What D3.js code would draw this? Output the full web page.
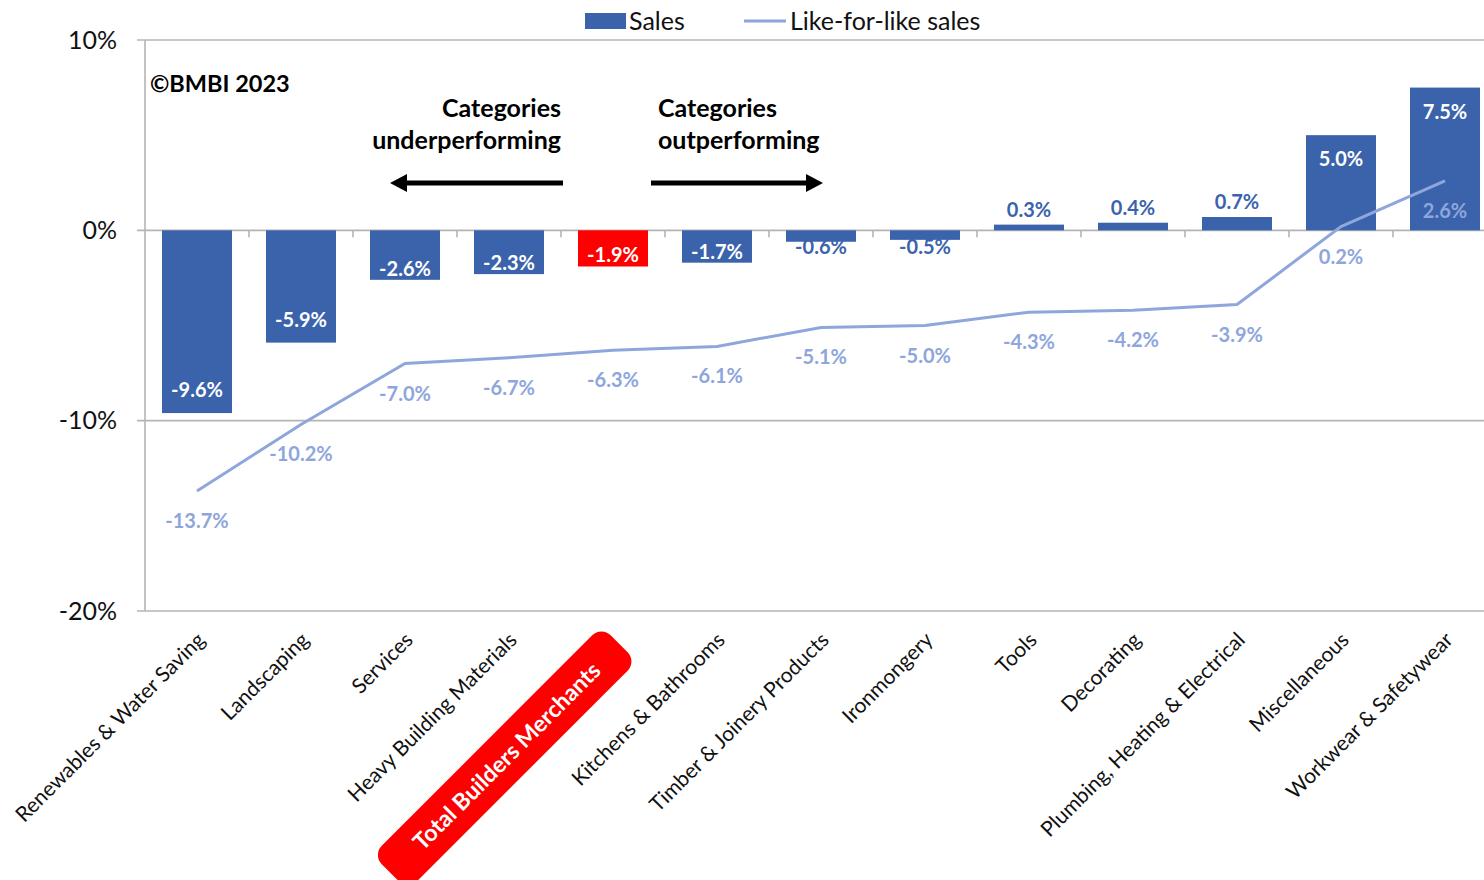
<!DOCTYPE html>
<html>
<head>
<meta charset="utf-8">
<script src="https://cdn.jsdelivr.net/npm/d3@7"></script>
<style>
  body { margin: 0; background: #fff; }
  svg { display: block; font-family: Lato, "Open Sans", sans-serif; }
</style>
</head>
<body>
<svg id="chart" width="1484" height="880"></svg>
<script>
// Builders merchants: sales and like-for-like sales change by category
const categories = [
  "Renewables & Water Saving", "Landscaping", "Services", "Heavy Building Materials",
  "Total Builders Merchants", "Kitchens & Bathrooms", "Timber & Joinery Products",
  "Ironmongery", "Tools", "Decorating", "Plumbing, Heating & Electrical",
  "Miscellaneous", "Workwear & Safetywear"
];
const sales = [-9.6, -5.9, -2.6, -2.3, -1.9, -1.7, -0.6, -0.5, 0.3, 0.4, 0.7, 5.0, 7.5];
const likeForLike = [-13.7, -10.2, -7.0, -6.7, -6.3, -6.1, -5.1, -5.0, -4.3, -4.2, -3.9, 0.2, 2.6];
const yTicks = [10, 0, -10, -20];
const totalCategory = "Total Builders Merchants";
const seriesNames = ["Sales", "Like-for-like sales"];

const BAR = "#3B63AC", TOTAL = "#FF0000", LINE = "#8EA6DC", GRID = "#B4B4B4";

const svg = d3.select("#chart");
const plotLeft = 145, plotTop = 40, plotBottom = 611;
const step = 104;

const x = d3.scaleBand()
  .domain(categories)
  .range([plotLeft, plotLeft + step * categories.length])
  .paddingInner(34 / 104)
  .paddingOuter(17 / 104);

const y = d3.scaleLinear().domain([-20, 10]).range([plotBottom, plotTop]);
const fmt = v => v.toFixed(1) + "%";

// horizontal gridlines
svg.append("g").selectAll("line").data(yTicks).join("line")
  .attr("x1", plotLeft - 8).attr("x2", x.range()[1])
  .attr("y1", d => y(d)).attr("y2", d => y(d))
  .attr("stroke", GRID).attr("stroke-width", 1.6);

// vertical axis line
svg.append("line")
  .attr("x1", plotLeft).attr("x2", plotLeft)
  .attr("y1", y(10)).attr("y2", y(-20))
  .attr("stroke", GRID).attr("stroke-width", 1.6);

// y tick labels
svg.append("g").selectAll("text").data(yTicks).join("text")
  .attr("x", 117).attr("y", d => y(d)).attr("dy", "0.35em")
  .attr("text-anchor", "end").attr("font-size", 25).attr("fill", "#111")
  .text(d => d + "%");

// bars
svg.append("g").selectAll("rect").data(sales).join("rect")
  .attr("x", (d, i) => x(categories[i]))
  .attr("width", x.bandwidth())
  .attr("y", d => Math.min(y(d), y(0)))
  .attr("height", d => Math.abs(y(d) - y(0)))
  .attr("fill", (d, i) => categories[i] === totalCategory ? TOTAL : BAR);

// category boundary ticks on the zero line
svg.append("g").selectAll("line").data(categories.slice(1)).join("line")
  .attr("x1", d => x(d) - x.step() * x.paddingInner() / 2)
  .attr("x2", d => x(d) - x.step() * x.paddingInner() / 2)
  .attr("y1", y(0)).attr("y2", y(0) + 7)
  .attr("stroke", GRID).attr("stroke-width", 1.6);

// like-for-like line
const cx = i => x(categories[i]) + x.bandwidth() / 2;
svg.append("path")
  .datum(likeForLike)
  .attr("d", d3.line().x((d, i) => cx(i)).y(d => y(d)))
  .attr("fill", "none").attr("stroke", LINE).attr("stroke-width", 3);

// bar value labels
svg.append("g").selectAll("text").data(sales).join("text")
  .attr("x", (d, i) => cx(i))
  .attr("y", d => {
    const len = Math.abs(y(d) - y(0));
    if (d >= 0) return len > 60 ? y(d) + 24 : y(d) - 15;
    return len > 60 ? y(d) - 23 : Math.max(y(d) - 11, y(0) + 17);
  })
  .attr("dy", "0.35em").attr("text-anchor", "middle")
  .attr("font-size", 20).attr("font-weight", 700)
  .attr("fill", d => {
    const len = Math.abs(y(d) - y(0));
    if (d >= 0) return len > 60 ? "#fff" : BAR;
    return len > 30 ? "#fff" : BAR;
  })
  .text(fmt);

// like-for-like value labels
svg.append("g").selectAll("text").data(likeForLike).join("text")
  .attr("x", (d, i) => cx(i))
  .attr("y", d => y(d) + 30)
  .attr("dy", "0.35em").attr("text-anchor", "middle")
  .attr("font-size", 20).attr("font-weight", 700).attr("fill", LINE)
  .text(fmt);

// category labels, rotated
const cat = svg.append("g").selectAll("g").data(categories).join("g")
  .attr("transform", d => `translate(${x(d) + x.bandwidth() / 2 + 4},636) rotate(-45)`);
cat.each(function (d) {
  const g = d3.select(this);
  if (d === totalCategory) {
    const t = g.append("text")
      .attr("x", -36).attr("y", 7).attr("dy", "0.35em")
      .attr("text-anchor", "end").attr("font-size", 23).attr("font-weight", 700)
      .attr("fill", "#fff").text(d);
    const b = t.node().getBBox();
    g.insert("rect", "text")
      .attr("x", b.x - 38).attr("width", b.width + 70)
      .attr("y", 7 - 25).attr("height", 50)
      .attr("rx", 13).attr("fill", TOTAL);
  } else {
    g.append("text")
      .attr("dy", "0.35em").attr("text-anchor", "end")
      .attr("font-size", 21).attr("fill", "#111").text(d);
  }
});

// legend
const legend = svg.append("g");
legend.append("rect").attr("x", 585).attr("y", 13).attr("width", 41).attr("height", 16).attr("fill", BAR);
legend.append("text").attr("x", 629).attr("y", 21).attr("dy", "0.35em")
  .attr("font-size", 25).attr("fill", "#111").text(seriesNames[0]);
legend.append("line").attr("x1", 744).attr("x2", 786).attr("y1", 21).attr("y2", 21)
  .attr("stroke", LINE).attr("stroke-width", 3);
legend.append("text").attr("x", 790).attr("y", 21).attr("dy", "0.35em")
  .attr("font-size", 25).attr("fill", "#111").text(seriesNames[1]);

// annotations
svg.append("text").attr("x", 150).attr("y", 84).attr("dy", "0.35em")
  .attr("font-size", 23.5).attr("font-weight", 700).attr("fill", "#000").text("©BMBI 2023");

const under = svg.append("text").attr("text-anchor", "end")
  .attr("font-size", 25).attr("font-weight", 700).attr("fill", "#000");
under.append("tspan").attr("x", 561).attr("y", 108).attr("dy", "0.35em").text("Categories");
under.append("tspan").attr("x", 561).attr("y", 140).attr("dy", "0.35em").text("underperforming");

const over = svg.append("text").attr("text-anchor", "start")
  .attr("font-size", 25).attr("font-weight", 700).attr("fill", "#000");
over.append("tspan").attr("x", 658).attr("y", 108).attr("dy", "0.35em").text("Categories");
over.append("tspan").attr("x", 658).attr("y", 140).attr("dy", "0.35em").text("outperforming");

// direction arrows
function arrow(x0, x1, yy) {
  const dir = Math.sign(x1 - x0), head = 17;
  svg.append("line").attr("x1", x0).attr("x2", x1 - dir * head)
    .attr("y1", yy).attr("y2", yy).attr("stroke", "#000").attr("stroke-width", 5);
  svg.append("path")
    .attr("d", `M${x1},${yy} L${x1 - dir * head},${yy - 9} L${x1 - dir * head},${yy + 9} Z`)
    .attr("fill", "#000");
}
arrow(563, 390, 183);
arrow(651, 823, 183);
</script>
</body>
</html>
